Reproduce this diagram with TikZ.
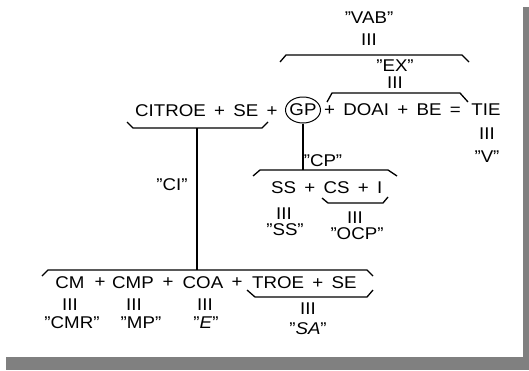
\documentclass[tikz,border=0pt]{standalone}
\usepackage{fontspec}
\setmainfont{Liberation Sans}[FakeStretch=1.1,WordSpace=1.6]
\usepackage{tikz}
\usetikzlibrary{shapes.geometric}

\tikzset{
  txt/.style={inner sep=0pt, font=\fontsize{17}{20}\selectfont},
  brace/.style={line width=1.3pt, line join=miter},
  shadow/.style={fill=black!50, draw=none}
}

\begin{document}
\begin{tikzpicture}[x=1pt,y=1pt]
\useasboundingbox (0,0) rectangle (529,-370);
% sombra
\fill[shadow] (523,-7) rectangle (529,-370);
\fill[shadow] (6,-357) rectangle (529,-370);
% arriba
\node[txt] (vab) at (369,-18) {"VAB"};
\node[txt] (vabeq) at (369,-40) {III};
\draw[brace] (280,-62) -- (286,-55) -- (462,-55) -- (469,-62);
\node[txt] (ex) at (395,-66) {"EX"};
\node[txt] (exeq) at (395,-83) {III};
\draw[brace] (327,-102) -- (332,-93) -- (460,-93) -- (468,-102);
% linea principal
\node[txt, anchor=west] (citroe) at (135,-111) {CITROE + SE +};
\node[txt, draw, ellipse, minimum width=35pt, minimum height=26pt, line width=1pt] (gp) at (303,-110) {};
\node[txt] at (gp) {GP};
\node[txt, anchor=west] (doai) at (324,-110) {+ DOAI + BE =};
\node[txt] (tie) at (486,-110) {TIE};
\node[txt] (tieeq) at (487,-134) {III};
\node[txt] (v) at (487,-157) {"V"};
% llave de CITROE + SE
\draw[brace] (127,-122) -- (133,-128) -- (262,-128) -- (268,-122);
\coordinate (ci) at (197,-128);
\coordinate (cm) at (197,-270);
\draw[line width=1.3pt] (ci) -- (cm);
\node[txt] (cilab) at (172,-185) {"CI"};
% GP
\coordinate (cp) at (303,-170);
\draw[line width=1.3pt] (gp.south) -- (cp);
\node[txt] (cplab) at (323,-161) {"CP"};
\draw[brace] (253,-176) -- (260,-170) -- (388,-170) -- (397,-176);
\node[txt, anchor=west] (ss) at (271,-188) {SS + CS + I};
\draw[brace] (322,-198) -- (328,-203) -- (383,-203) -- (388,-197);
\node[txt] (sseq) at (284,-214) {III};
\node[txt] (sslab) at (285,-230) {"SS"};
\node[txt] (ocpeq) at (355,-218) {III};
\node[txt] (ocp) at (357,-234) {"OCP"};
% abajo
\draw[brace] (42,-276) -- (48,-270) -- (367,-270) -- (373,-276);
\node[txt] (cmn) at (70,-283) {CM};
\node[txt] at (100,-283) {+};
\node[txt] (cmp) at (133,-283) {CMP};
\node[txt] at (168,-283) {+};
\node[txt] (coa) at (203,-283) {COA};
\node[txt] at (237,-283) {+};
\node[txt, anchor=west] (troe) at (252,-283) {TROE + SE};
\draw[brace] (247,-290) -- (255,-297) -- (367,-297) -- (373,-290);
\node[txt] (cmeq) at (70,-305) {III};
\node[txt] (cmpeq) at (134,-305) {III};
\node[txt] (coaeq) at (205,-305) {III};
\node[txt] (troeeq) at (308,-309) {III};
\node[txt] (cmr) at (72,-323) {"CMR"};
\node[txt] (mp) at (141,-323) {"MP"};
\node[txt] (e) at (206,-323) {"\textit{E}"};
\node[txt] (sa) at (308,-329) {"\textit{SA}"};
\end{tikzpicture}
\end{document}
